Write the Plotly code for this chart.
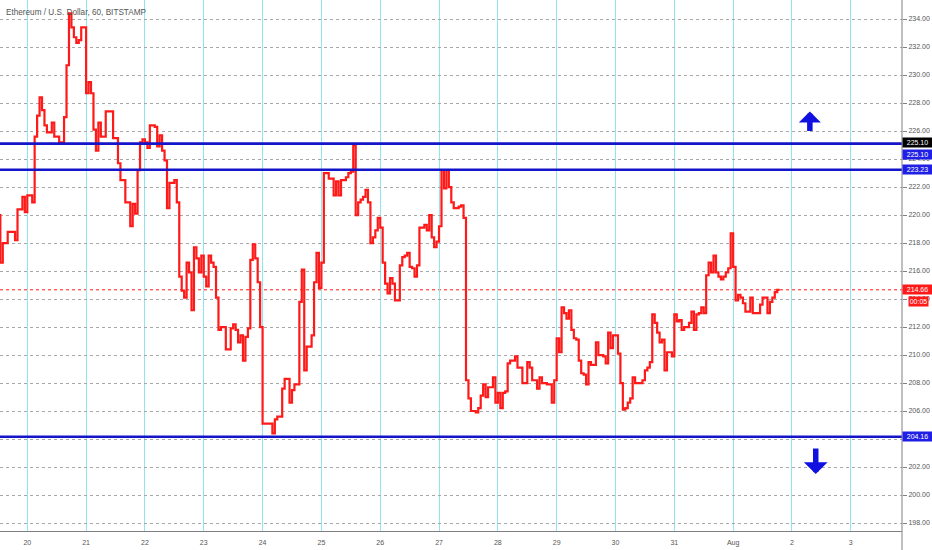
import pandas as pd
import plotly.graph_objects as go

# ---- data (hourly ETH/USD, hours counted from 20 Jul 00:00) ----
hours = [
    -12, -11, -10, -8, -5, -4, -2, -1,
    0, 2, 3, 4, 5, 6, 7, 8, 10, 11, 13, 15, 16, 17, 18, 19, 20, 21, 22,
    24, 25, 26, 27, 28, 29, 30, 32, 35, 37, 38, 40, 42, 43, 44, 45, 46, 47,
    48, 49, 50, 52, 53, 54, 55, 56, 57, 58, 60, 61, 62, 63, 64, 65, 66, 67, 68, 69, 70, 71,
    72, 73, 74, 75, 76, 77, 78, 79, 81, 83, 84, 85, 86, 87, 88, 89, 90, 91, 92, 93, 94, 95,
    96, 100, 101, 102, 104, 105, 107, 108, 109, 111, 112, 113, 114, 116, 117, 118, 119,
    120, 121, 123, 125, 126, 127, 128, 130, 131, 132, 133, 134, 135, 136, 137, 138, 139, 140, 141, 142, 143,
    144, 145, 146, 147, 148, 149, 150, 152, 153, 154, 155, 156, 157, 158, 159, 160, 162, 163, 164, 165, 166, 167,
    168, 169, 170, 171, 172, 173, 174, 176, 177, 178, 179, 180, 181, 183, 184, 185, 186, 187, 188, 190, 191,
    192, 193, 194, 195, 196, 197, 199, 200, 202, 204, 205, 206, 208, 209, 210, 212, 214, 215,
    216, 217, 218, 219, 220, 221, 222, 223, 224, 225, 226, 227, 228, 229, 230, 232, 233, 235, 236, 237, 238, 239,
    241, 242, 243, 244, 245, 246, 247, 248, 251, 252, 253, 254, 255, 256, 257, 258, 259, 260, 261, 263,
    264, 265, 266, 267, 268, 270, 271, 272, 273, 274, 275, 276, 277, 278, 279, 280, 281, 282, 283, 284, 285, 286, 287,
    288, 289, 290, 291, 292, 293, 295, 296, 299, 300, 302, 303, 304, 305, 306, 307,
]
prices = [
    220.0, 216.6, 218.0, 218.8, 218.2, 220.4, 221.3, 220.2,
    221.4, 220.9, 225.6, 227.1, 228.4, 227.5, 226.4, 225.9, 226.6, 225.6, 225.2, 227.0, 230.7, 234.4, 233.4, 232.7, 232.3, 232.5, 233.4,
    228.7, 229.5, 228.7, 226.1, 224.6, 226.6, 225.6, 227.4, 225.5, 223.7, 222.5, 220.9, 219.2, 220.8, 220.1, 223.2, 225.2, 225.4,
    225.2, 224.8, 226.4, 226.3, 224.9, 225.7, 224.6, 223.9, 220.5, 222.3, 222.5, 220.9, 215.6, 214.6, 214.1, 216.6, 215.9, 213.2, 217.7, 216.9, 215.9, 217.1,
    215.6, 214.9, 217.1, 216.6, 216.3, 214.1, 211.8, 212.0, 210.4, 211.9, 212.2, 211.8, 210.9, 211.4, 209.6, 211.3, 211.9, 216.8, 217.9, 216.9, 215.2, 212.0,
    205.1, 204.4, 205.4, 205.6, 207.6, 208.3, 206.6, 207.5, 207.9, 213.8, 216.1, 208.9, 210.6, 211.4, 215.2, 217.3, 214.8,
    216.6, 223.0, 222.6, 221.4, 222.4, 221.4, 222.5, 222.7, 223.0, 223.1, 225.0, 220.0, 220.9, 221.1, 221.3, 221.8, 220.9, 218.0, 218.4, 218.9, 219.8,
    219.1, 216.6, 215.1, 214.4, 215.5, 215.1, 213.9, 216.4, 217.0, 217.1, 217.3, 216.3, 216.2, 215.6, 216.4, 219.1, 219.3, 218.9, 220.0, 218.4, 217.7, 218.1,
    219.2, 223.2, 221.9, 223.2, 222.0, 220.9, 220.5, 220.6, 220.7, 219.8, 208.2, 206.9, 206.0, 205.9, 206.2, 207.1, 207.9, 207.0, 207.7, 208.4, 206.6,
    207.3, 206.2, 207.3, 207.4, 209.4, 209.6, 209.9, 209.1, 208.0, 209.5, 209.1, 208.2, 207.6, 208.4, 208.0, 207.9, 206.6, 208.2,
    211.2, 210.2, 213.4, 213.0, 212.6, 213.2, 211.8, 211.2, 211.1, 209.6, 208.7, 208.6, 207.9, 209.5, 209.3, 210.9, 210.0, 209.9, 209.4, 211.6, 210.5, 211.4,
    210.1, 208.0, 206.1, 206.2, 206.6, 206.9, 208.4, 208.0, 208.2, 208.9, 209.1, 209.5, 212.9, 212.3, 211.6, 210.9, 211.1, 208.9, 210.2, 209.9,
    212.9, 212.4, 212.5, 211.8, 212.0, 212.3, 213.1, 211.8, 212.9, 213.0, 213.4, 213.0, 215.7, 216.6, 215.9, 217.1, 215.9, 215.6, 215.4, 215.6, 215.9, 216.2, 218.7,
    216.3, 213.9, 214.3, 214.1, 213.7, 213.1, 214.1, 213.0, 213.6, 214.1, 213.0, 213.8, 214.1, 214.5, 214.66, 214.66,
]
assert len(hours) == len(prices)

resistance_levels = [225.10, 223.23]
support_levels = [204.16]
last_price = 214.66
countdown = "00:05"
day_labels = ["20", "21", "22", "23", "24", "25", "26", "27", "28", "29", "30", "31", "Aug", "2", "3"]
title_text = "Ethereum / U.S. Dollar, 60, BITSTAMP"

base = pd.Timestamp("2019-07-20")
times = [base + pd.Timedelta(hours=h) for h in hours]
tick_days = [base + pd.Timedelta(days=i) for i in range(len(day_labels))]

LINE_BLUE = "#1414c8"
BOX_BLUE = "#1f1fe6"
ARROW_BLUE = "#1010e0"
RED = "#ff1a1a"
FONT = "Liberation Sans, Arial, sans-serif"

fig = go.Figure()
fig.add_trace(go.Scatter(
    x=times, y=prices, mode="lines", line=dict(color=RED, width=2.2, shape="hv"),
    hoverinfo="skip", showlegend=False,
))

shapes = []
for lvl in resistance_levels + support_levels:
    shapes.append(dict(type="line", xref="paper", x0=0, x1=1, yref="y", y0=lvl, y1=lvl,
                       line=dict(color=LINE_BLUE, width=2.6), layer="above"))
shapes.append(dict(type="line", xref="paper", x0=0, x1=1, yref="y", y0=last_price, y1=last_price,
                   line=dict(color=RED, width=1, dash="dot"), layer="below"))
# right price-axis line extends to bottom of the window
shapes.append(dict(type="line", xref="paper", x0=1, x1=1, yref="paper", y0=-0.04, y1=1,
                   line=dict(color="#808080", width=1)))

annotations = [
    dict(text=title_text, xref="paper", yref="paper", x=0, y=1, xanchor="left", yanchor="top",
         xshift=4, yshift=-6, showarrow=False, font=dict(family=FONT, size=8.2, color="#555555")),
]

def price_box(text, y, bg, yshift=0, width=29, xshift=0):
    return dict(text=text, xref="paper", yref="y", x=1, y=y, xanchor="left", yanchor="middle",
                xshift=xshift, yshift=yshift, showarrow=False, bgcolor=bg, width=width, height=9,
                borderpad=0, align="center", font=dict(family=FONT, size=7, color="white"))

annotations += [
    price_box(f"{resistance_levels[0]:.2f}", resistance_levels[0], "#000000", yshift=1),
    price_box(f"{resistance_levels[0]:.2f}", resistance_levels[0], BOX_BLUE, yshift=-11),
    price_box(f"{resistance_levels[1]:.2f}", resistance_levels[1], BOX_BLUE),
    price_box(f"{last_price:.2f}", last_price, RED),
    price_box(countdown, last_price, RED, yshift=-12, width=19, xshift=6),
    price_box(f"{support_levels[0]:.2f}", support_levels[0], BOX_BLUE),
]

# direction arrows
up_x = base + pd.Timedelta(hours=319.3)
dn_x = base + pd.Timedelta(hours=321.7)
annotations += [
    dict(x=up_x, y=227.4, xref="x", yref="y", ax=0, ay=21, showarrow=True, arrowhead=1,
         arrowsize=0.67, arrowwidth=5.5, arrowcolor=ARROW_BLUE, text=""),
    dict(x=dn_x, y=201.5, xref="x", yref="y", ax=0, ay=-27, showarrow=True, arrowhead=1,
         arrowsize=0.72, arrowwidth=5.5, arrowcolor=ARROW_BLUE, text=""),
]

fig.update_layout(
    width=932, height=550,
    margin=dict(l=0, r=30, t=0, b=19),
    paper_bgcolor="white", plot_bgcolor="white",
    shapes=shapes, annotations=annotations,
    xaxis=dict(
        type="date",
        range=[base - pd.Timedelta(hours=11.14), base + pd.Timedelta(hours=356.9)],
        tickmode="array", tickvals=tick_days, ticktext=day_labels,
        showgrid=True, gridcolor="#8fe6ee", gridwidth=1,
        showline=True, linecolor="#808080", linewidth=1,
        ticks="", zeroline=False, fixedrange=True, ticklabelstandoff=5,
        tickfont=dict(family=FONT, size=7, color="#555555"),
    ),
    yaxis=dict(
        side="right", range=[197.43, 235.36],
        tick0=198, dtick=2, tickformat=".2f",
        showgrid=True, gridcolor="#a8a8a8", griddash="dot", gridwidth=1,
        showline=False, ticks="outside", ticklen=4, tickcolor="#808080",
        zeroline=False, fixedrange=True,
        tickfont=dict(family=FONT, size=7, color="#555555"),
    ),
    hovermode=False,
)

fig.write_html("out.html", config={"displayModeBar": False},
               post_script="document.body.style.margin='0px';")
